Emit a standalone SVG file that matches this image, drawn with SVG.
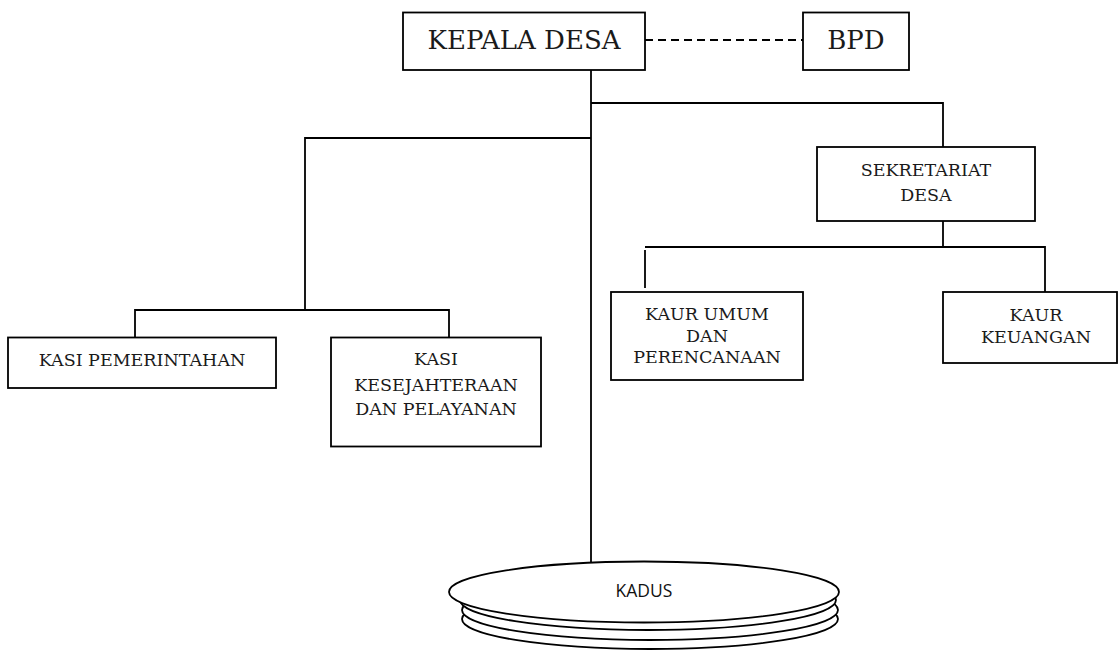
<svg xmlns="http://www.w3.org/2000/svg" width="1119" height="656" viewBox="0 0 1119 656">
<style>
.box{fill:#fff;stroke:#000;stroke-width:1.8}
.ln{fill:none;stroke:#000;stroke-width:1.8}
.t{font-family:"DejaVu Serif","Liberation Serif",serif;font-size:17.5px;fill:#1a1a1a;text-anchor:middle}
.big{font-size:26px}
.kd{font-family:"Open Sans","Liberation Sans",sans-serif;font-size:17.5px;fill:#111;text-anchor:middle}
.el{fill:#fff;stroke:#000;stroke-width:1.8}
</style>
<rect width="1119" height="656" fill="#fff"/>
<g id="connectors">
<line class="ln" x1="645" y1="40" x2="803" y2="40" stroke-dasharray="8 5"/>
<polyline class="ln" points="591,70 591,562"/>
<polyline class="ln" points="591,103 943,103 943,147"/>
<polyline class="ln" points="591,138 305,138 305,310"/>
<polyline class="ln" points="135,337 135,310 449,310 449,337"/>
<polyline class="ln" points="943,221 943,247"/>
<polyline class="ln" points="645,247 1045,247 1045,292"/>
<line class="ln" x1="645" y1="250" x2="645" y2="288"/>
</g>
<g id="kepala-desa">
<rect class="box" x="403" y="12.5" width="242" height="57.5"/>
<text class="t big" x="524" y="49">KEPALA DESA</text>
</g>
<g id="bpd">
<rect class="box" x="803" y="12.5" width="106" height="57.5"/>
<text class="t big" x="856" y="49">BPD</text>
</g>
<g id="sekretariat-desa">
<rect class="box" x="817" y="147" width="218" height="74"/>
<text class="t" x="926" y="176">SEKRETARIAT</text>
<text class="t" x="926" y="200.5">DESA</text>
</g>
<g id="kasi-pemerintahan">
<rect class="box" x="8" y="337.5" width="268" height="50.5"/>
<text class="t" x="142" y="365.5">KASI PEMERINTAHAN</text>
</g>
<g id="kasi-kesejahteraan">
<rect class="box" x="331" y="337.5" width="210" height="109"/>
<text class="t" x="436" y="365">KASI</text>
<text class="t" x="436" y="390.5">KESEJAHTERAAN</text>
<text class="t" x="436" y="415">DAN PELAYANAN</text>
</g>
<g id="kaur-umum">
<rect class="box" x="611" y="292" width="192" height="88"/>
<text class="t" x="707" y="320">KAUR UMUM</text>
<text class="t" x="707" y="341.5">DAN</text>
<text class="t" x="707" y="362.5">PERENCANAAN</text>
</g>
<g id="kaur-keuangan">
<rect class="box" x="943" y="292" width="174" height="71"/>
<text class="t" x="1036" y="320.5">KAUR</text>
<text class="t" x="1036" y="342.5">KEUANGAN</text>
</g>
<g id="kadus">
<ellipse class="el" cx="650" cy="619" rx="188" ry="30"/>
<ellipse class="el" cx="650" cy="610" rx="188" ry="30"/>
<ellipse class="el" cx="648" cy="600" rx="188" ry="30"/>
<ellipse class="el" cx="644" cy="592" rx="195" ry="30.5"/>
<text class="kd" x="644" y="597">KADUS</text>
</g>
</svg>
